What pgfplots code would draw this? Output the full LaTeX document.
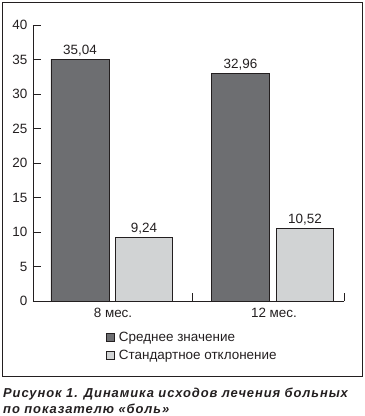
\documentclass[border=0pt]{standalone}
\usepackage{fontspec}
\setmainfont{Liberation Sans}
\usepackage{pgfplots}
\pgfplotsset{compat=1.18}
\definecolor{darkbar}{HTML}{6D6E71}
\definecolor{lightbar}{HTML}{D1D3D4}
\definecolor{ink}{HTML}{231F20}
\begin{document}
\fontsize{13.5}{16}\selectfont
\begin{tikzpicture}[x=1bp,y=1bp]
\useasboundingbox (-33,-115) rectangle (332,301);
\draw[ink, line width=0.9bp] (-30.5,-75) rectangle (329,299);
\begin{axis}[
  at={(0,0)}, anchor=south west,
  width=311bp, height=276bp, scale only axis,
  xmin=0, xmax=311, ymin=0, ymax=40,
  axis x line*=bottom, axis y line*=left,
  axis line style={ink, line width=0.8bp},
  ytick={0,5,...,40},
  xtick={159,311}, xticklabels={},
  tick align=inside, major tick length=8bp,
  every tick/.style={ink, line width=0.8bp},
  /pgf/number format/assume math mode=true,
  yticklabel style={font=\fontsize{13.5}{16}\selectfont, text=ink, xshift=-1bp},
  extra x ticks={80,241},
  extra x tick labels={8 мес.,12 мес.},
  extra x tick style={major tick length=0pt, xticklabel style={font=\fontsize{13.5}{16}\selectfont, text=ink, yshift=-2bp}},
  legend style={draw=none, fill=none, anchor=north west, at={(axis cs:73,-4.1)},
    inner sep=0pt, font=\fontsize{13.5}{16}\selectfont, text=ink,
    row sep=1.5bp, nodes={inner sep=2.5bp}},
  legend cell align=left,
  legend image code/.code={\draw[#1] (0bp,-4bp) rectangle (8bp,4bp);},
  nodes near coords={\pgfmathprintnumber[fixed,fixed zerofill,precision=2,use comma,assume math mode=true]{\pgfplotspointmeta}},
  every node near coord/.append style={font=\fontsize{13.5}{16}\selectfont, text=ink, inner sep=2.5bp},
]
\addplot[ybar, bar width=58bp, bar shift=0pt, fill=darkbar, draw=ink, line width=0.8bp]
  coordinates {(47,35.04) (207.5,32.96)};
\addlegendentry{\hspace{1.5bp}Среднее значение}
\addplot[ybar, bar width=57bp, bar shift=0pt, fill=lightbar, draw=ink, line width=0.8bp]
  coordinates {(111,9.24) (272,10.52)};
\addlegendentry{\hspace{1.5bp}Стандартное отклонение}
\end{axis}
\node[anchor=base west, font=\fontsize{13}{15}\selectfont\bfseries\itshape\addfontfeature{LetterSpace=7}, text=ink, inner sep=0pt] at (-30,-96) {Рисунок 1. Динамика исходов лечения больных};
\node[anchor=base west, font=\fontsize{13}{15}\selectfont\bfseries\itshape\addfontfeature{LetterSpace=7}, text=ink, inner sep=0pt] at (-30,-112) {по показателю «боль»};
\end{tikzpicture}
\end{document}
